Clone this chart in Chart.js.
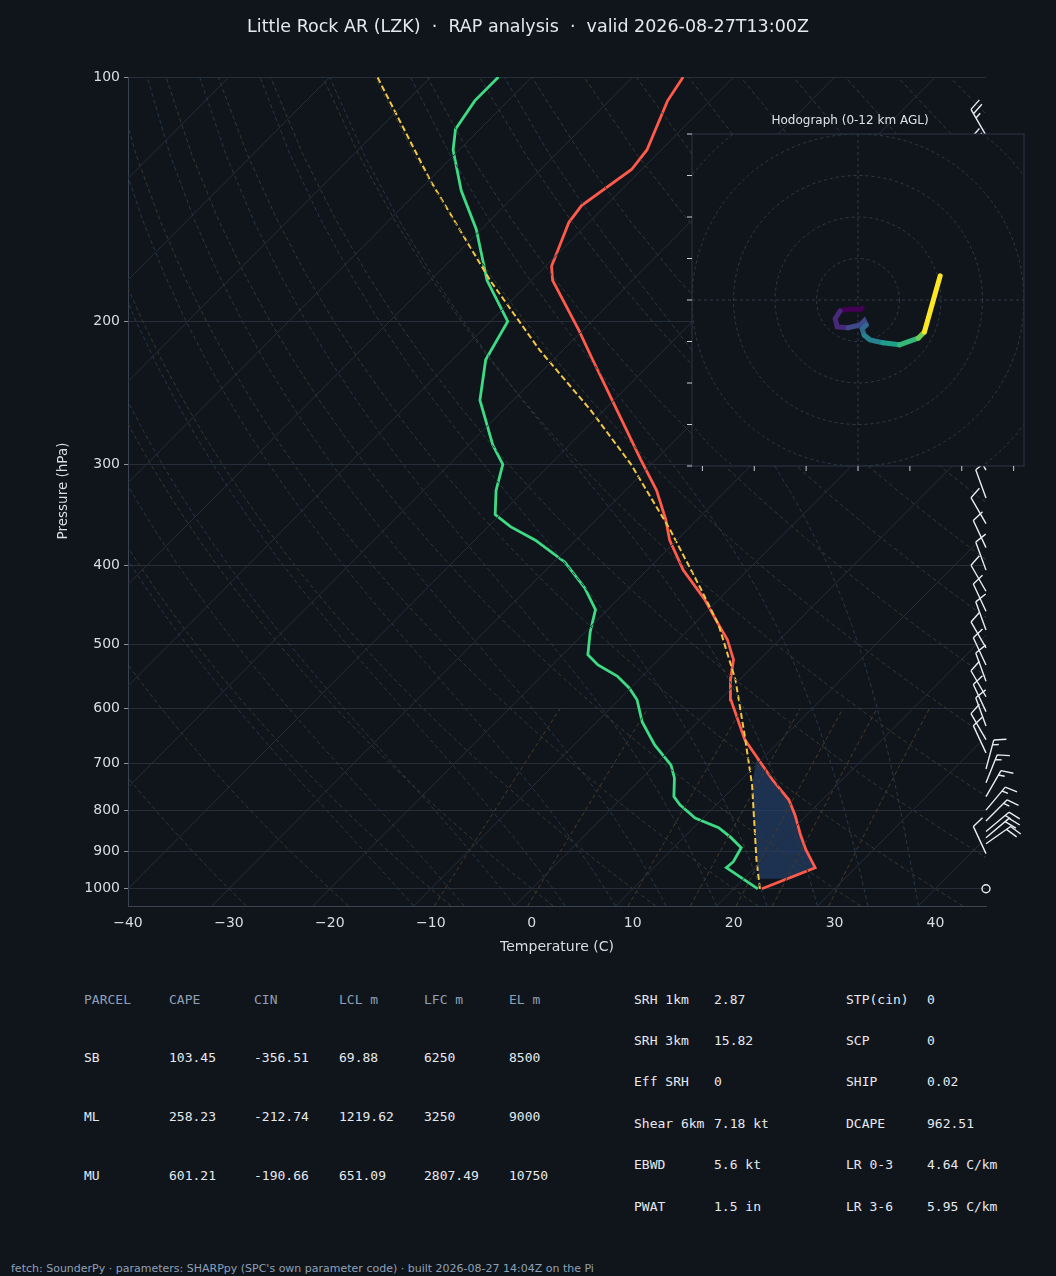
<!DOCTYPE html>
<html><head><meta charset="utf-8">
<script src="https://cdn.jsdelivr.net/npm/chart.js@4.4.1/dist/chart.umd.min.js"></script>
<style>
html,body{margin:0;padding:0;background:#10151c;width:1056px;height:1276px;overflow:hidden;font-family:"DejaVu Sans",sans-serif}
#main{position:absolute;left:0;top:0}
#hodo{position:absolute;left:680px;top:110px}
.t{position:absolute;font-family:"DejaVu Sans Mono",monospace;font-size:13px;color:#e6e9ee;white-space:pre}
.h{color:#8fa0b6}
#foot{position:absolute;left:11px;top:1262px;font-size:11px;color:#8fa0b6}
</style></head><body>
<canvas id="main" width="1056" height="960"></canvas>
<canvas id="hodo" width="352" height="370"></canvas>
<div id="tables"></div>
<div id="foot">fetch: SounderPy · parameters: SHARPpy (SPC's own parameter code) · built 2026-08-27 14:04Z on the Pi</div>
<script>
// ---------- data ----------
const tempP = [1000,942,895,858,811,777,734,655,585,553,522,493,466,440,405,372,351,323,296,250,223,205,178,171,163,151,144,130,123,107,100];
const tempT = [22.8,26.0,23.3,21.3,18.8,16.7,13.1,6.4,1.1,-0.9,-2.6,-5.2,-8.3,-11.4,-16.4,-20.7,-23.1,-26.9,-31.5,-40.2,-46.1,-50.4,-57.9,-59.4,-60.4,-62.0,-62.4,-61.0,-61.4,-64.2,-65.0];
const dewP = [1000,942,926,890,865,841,818,788,770,730,704,665,623,585,566,547,530,515,483,453,426,396,372,358,346,323,300,284,250,223,200,178,154,138,123,116,107,100];
const dewT = [22.4,17.2,17.3,16.7,14.7,12.5,9.2,6.4,5.0,3.2,1.6,-2.0,-5.5,-8.2,-10.1,-12.5,-15.5,-17.5,-19.5,-21.2,-24.4,-28.9,-34.0,-37.8,-40.5,-42.8,-44.7,-47.6,-53.3,-56.7,-58.3,-64.4,-70.5,-75.8,-80.6,-82.4,-83.3,-83.3];
const parcelP = [1000,921,745,646,553,473,428,361,300,257,217,178,134,100];
const parcelT = [22.6,19.4,11.6,5.9,-0.4,-7.5,-12.7,-21.7,-32.0,-41.4,-52.3,-64.1,-79.9,-95.3];
// CAPE area outline (pressure, temperature)
const capeP = [972,942,895,858,811,777,734,690,745,921,972];
const capeT = [24.8,26.0,23.3,21.3,18.8,16.7,13.1,9.4,11.6,19.4,21.6];
// wind barbs
const barbP = [1000,905,880,865,850,825,800,770,740,712,680,655,630,605,580,555,530,505,480,455,430,405,380,355,330,305,298,128,118];
const barbDir = [0,335,55,50,50,45,40,30,22,15,335,330,340,335,330,340,335,330,340,335,330,340,335,330,340,330,300,330,330];
const barbSpd = [0,10,20,20,15,15,15,15,15,15,10,10,10,10,10,10,10,10,10,10,10,10,10,10,10,10,25,25,25];
// hodograph (u, v kt) and height km
const hodoU = [1.0,0.5,-2.0,-4.3,-5.5,-5.0,-2.4,0.5,1.5,2.0,1.0,1.5,2.9,6.0,10.0,14.5,16.0,19.8];
const hodoV = [-2.0,-2.3,-2.2,-2.6,-4.5,-6.5,-6.7,-6.0,-5.0,-6.0,-7.0,-8.5,-9.6,-10.3,-10.8,-9.2,-7.7,5.8];
const hodoH = [0,0.4,0.8,1.2,1.6,2.0,2.4,2.8,3.2,3.6,4.0,4.6,5.2,6.0,7.0,8.0,8.6,12];
const xTicks = [-40,-30,-20,-10,0,10,20,30,40];
const yTicks = [100,200,300,400,500,600,700,800,900,1000];

const SKEW = 80;
const sx = (T,p)=> T + SKEW*Math.log10(1000/p);
const pts = (P,T)=> P.map((p,i)=>({x:sx(T[i],p),y:p}));

// background reference lines
const bg = [];
const presList = []; for(let p=1050;p>=100;p-=25) presList.push(p);
for(let T=-160;T<=50;T+=10){ bg.push({data:[{x:sx(T,1050),y:1050},{x:sx(T,100),y:100}],borderColor:'#262e39',borderWidth:1}); }
for(let th=-30;th<=200;th+=10){ const d=presList.map(p=>({x:sx((th+273.15)*Math.pow(p/1000,0.286)-273.15,p),y:p})); bg.push({data:d,borderColor:'#343a2f',borderWidth:1,borderDash:[4,3]}); }
function es(T){return 6.112*Math.exp(17.67*T/(T+243.5));}
function moist(T0){ const out=[]; let T=T0; for(let p=1050;p>=100;p-=5){ if(p%25===0) out.push({x:sx(T,p),y:p}); const Tk=T+273.15; const rs=0.622*es(T)/(p-es(T)); const g=(0.286*Tk + 2.5e6*rs/1004)/(1+2.5e6*2.5e6*rs*0.622/(1004*461*Tk*Tk)); T -= g*5/p; } return out; }
for(let T=-10;T<=40;T+=5){ bg.push({data:moist(T),borderColor:'#27384a',borderWidth:1,borderDash:[4,3]}); }
[2,4,8,12,16,20,28].forEach(w=>{ const d=[]; for(let p=1050;p>=600;p-=25){ const e=w/1000*p/(0.622+w/1000); const T=243.5*Math.log(e/6.112)/(17.67-Math.log(e/6.112)); d.push({x:sx(T,p),y:p}); } bg.push({data:d,borderColor:'#4a3b26',borderWidth:1,borderDash:[4,3]}); });
bg.forEach(d=>{d.pointRadius=0;d.showLine=true;d.fill=false;});

const capePlugin={id:'cape',beforeDatasetsDraw(c){const x=c.scales.x,y=c.scales.y,ctx=c.ctx;ctx.save();
 ctx.beginPath();capeP.forEach((p,i)=>{const px=x.getPixelForValue(sx(capeT[i],p)),py=y.getPixelForValue(p);i?ctx.lineTo(px,py):ctx.moveTo(px,py);});ctx.closePath();ctx.fillStyle='rgba(38,68,115,0.6)';ctx.fill();ctx.restore();}};
const barbPlugin={id:'barbs',afterDraw(c){const y=c.scales.y,ctx=c.ctx;const bx=c.chartArea.right;ctx.save();ctx.strokeStyle='#e8ecf2';ctx.lineWidth=1.4;
 barbP.forEach((p,i)=>{const by=y.getPixelForValue(p);const s=barbSpd[i];if(s<2.5){ctx.beginPath();ctx.arc(bx,by,4,0,Math.PI*2);ctx.stroke();return;}
  const a=barbDir[i]*Math.PI/180;const dx=Math.sin(a),dy=-Math.cos(a);const L=30;const ex=bx+dx*L,ey=by+dy*L;ctx.beginPath();ctx.moveTo(bx,by);ctx.lineTo(ex,ey);
  const nx=-dy,ny=dx; let rem=s,k=0;
  while(rem>=10){const ox=ex-dx*k*5,oy=ey-dy*k*5;ctx.moveTo(ox,oy);ctx.lineTo(ox+nx*12+dx*4,oy+ny*12+dy*4);rem-=10;k++;}
  if(rem>=5){const ox=ex-dx*k*5,oy=ey-dy*k*5;ctx.moveTo(ox,oy);ctx.lineTo(ox+nx*6+dx*2,oy+ny*6+dy*2);}
  ctx.stroke();});ctx.restore();}};
const titlePlugin={id:'ttl',afterDraw(c){const ctx=c.ctx;ctx.save();ctx.fillStyle='#e4e8ee';ctx.font='17.5px "DejaVu Sans"';ctx.textAlign='center';ctx.textBaseline='middle';ctx.fillText('Little Rock AR (LZK)  ·  RAP analysis  ·  valid 2026-08-27T13:00Z',528,27);
 ctx.font='13.5px "DejaVu Sans"';ctx.translate(63,491);ctx.rotate(-Math.PI/2);ctx.fillStyle='#d8dde5';ctx.fillText('Pressure (hPa)',0,0);ctx.restore();}};

const fmt=v=>v<0?'\u2212'+Math.abs(v):String(v);
new Chart(document.getElementById('main'),{type:'scatter',
 data:{datasets:[...bg,
  {data:pts(parcelP,parcelT),borderColor:'#f2c744',borderWidth:2,borderDash:[6,3],showLine:true,pointRadius:0},
  {data:pts(dewP,dewT),borderColor:'#3ddc84',borderWidth:2.8,showLine:true,pointRadius:0},
  {data:pts(tempP,tempT),borderColor:'#ff5a4a',borderWidth:2.8,showLine:true,pointRadius:0}]},
 options:{responsive:false,animation:false,events:[],
  layout:{padding:{left:0,right:70,top:77,bottom:0}},
  plugins:{legend:{display:false},tooltip:{enabled:false}},
  scales:{
   x:{type:'linear',min:-40,max:45,afterBuildTicks(a){a.ticks=xTicks.map(v=>({value:v}));},afterFit(a){a.height=54;},
      ticks:{color:'#d8dde5',font:{size:14,family:'DejaVu Sans'},callback:fmt,maxRotation:0,padding:1},
      grid:{display:false},border:{color:'#3a4452'},
      title:{display:true,text:'Temperature (C)',color:'#d8dde5',font:{size:14,family:'DejaVu Sans'},padding:{top:0}}},
   y:{type:'logarithmic',reverse:true,min:100,max:1050,afterBuildTicks(a){a.ticks=yTicks.map(v=>({value:v}));},afterFit(a){a.width=128;},
      ticks:{color:'#d8dde5',font:{size:14,family:'DejaVu Sans'},callback:v=>String(v),padding:4},
      grid:{color:'#262e39',tickLength:4,tickColor:'#8893a0'},border:{color:'#3a4452'}}
  }},
 plugins:[capePlugin,barbPlugin,titlePlugin]});

// hodograph
const vir=['#440154','#482878','#3e4989','#31688e','#26828e','#1f9e89','#35b779','#6ece58','#b5de2b','#fde725'];
const col=h=>vir[Math.min(9,Math.floor(h/12*9.99))];
const hodoFrame={id:'hf',beforeDatasetsDraw(c){const x=c.scales.x,y=c.scales.y,ctx=c.ctx,a=c.chartArea;ctx.save();
 ctx.fillStyle='#10151c';ctx.fillRect(a.left,a.top,a.right-a.left,a.bottom-a.top);
 ctx.strokeStyle='#2f3a48';ctx.setLineDash([3,3]);ctx.lineWidth=1;const cx=x.getPixelForValue(0),cy=y.getPixelForValue(0);
 ctx.beginPath();ctx.rect(a.left,a.top,a.right-a.left,a.bottom-a.top);ctx.clip();
 for(let r=10;r<=60;r+=10){const rp=y.getPixelForValue(0)-y.getPixelForValue(r);ctx.beginPath();ctx.arc(cx,cy,rp,0,Math.PI*2);ctx.stroke();}
 ctx.beginPath();ctx.moveTo(a.left,cy);ctx.lineTo(a.right,cy);ctx.moveTo(cx,a.top);ctx.lineTo(cx,a.bottom);ctx.stroke();ctx.restore();
 ctx.save();ctx.strokeStyle='#2c3644';ctx.lineWidth=1;ctx.strokeRect(a.left,a.top,a.right-a.left,a.bottom-a.top);ctx.strokeStyle='#c8ced6';
 for(let v=-40;v<=40;v+=10){const py=y.getPixelForValue(v);ctx.beginPath();ctx.moveTo(a.left-5,py);ctx.lineTo(a.left,py);ctx.stroke();}
 for(let k=-3;k<=3;k++){const px=x.getPixelForValue(k*12.5);ctx.beginPath();ctx.moveTo(px,a.bottom);ctx.lineTo(px,a.bottom+5);ctx.stroke();}
 ctx.fillStyle='#dde2e8';ctx.font='12px "DejaVu Sans"';ctx.textAlign='center';ctx.fillText('Hodograph (0-12 km AGL)',(a.left+a.right)/2-8,a.top-10);ctx.restore();}};
new Chart(document.getElementById('hodo'),{type:'scatter',
 data:{datasets:[{data:hodoU.map((u,i)=>({x:u,y:hodoV[i]})),showLine:true,pointRadius:0,borderWidth:5,borderColor:'#fde725',borderCapStyle:'round',
  segment:{borderColor:ctx=>col(hodoH[ctx.p1DataIndex])}}]},
 options:{responsive:false,animation:false,events:[],layout:{padding:{left:12,right:8,top:24,bottom:14}},
  plugins:{legend:{display:false},tooltip:{enabled:false}},
  scales:{x:{min:-40,max:40,display:false},y:{min:-40,max:40,display:false}}},
 plugins:[hodoFrame]});

// tables
const parcelHead=['PARCEL','CAPE','CIN','LCL m','LFC m','EL m'];
const parcelRows=[['SB','103.45','-356.51','69.88','6250','8500'],['ML','258.23','-212.74','1219.62','3250','9000'],['MU','601.21','-190.66','651.09','2807.49','10750']];
const midLabels=['SRH 1km','SRH 3km','Eff SRH','Shear 6km','EBWD','PWAT'];
const midValues=['2.87','15.82','0','7.18 kt','5.6 kt','1.5 in'];
const rightLabels=['STP(cin)','SCP','SHIP','DCAPE','LR 0-3','LR 3-6'];
const rightValues=['0','0','0.02','962.51','4.64 C/km','5.95 C/km'];
let html='';const colX=[84,169,254,339,424,509];const rowY=[1001,1059,1118,1177];
const put=(x,y,t,c)=>html+=`<div class="t ${c||''}" style="left:${x}px;top:${y-9}px">${t}</div>`;
parcelHead.forEach((h,i)=>put(colX[i],rowY[0],h,'h'));
parcelRows.forEach((r,j)=>r.forEach((v,i)=>put(colX[i],rowY[j+1],v)));
const my=[1001,1042,1083,1125,1166,1208];
midLabels.forEach((l,i)=>{put(634,my[i],l);put(714,my[i],midValues[i]);});
rightLabels.forEach((l,i)=>{put(846,my[i],l);put(927,my[i],rightValues[i]);});
document.getElementById('tables').innerHTML=html;
</script></body></html>
